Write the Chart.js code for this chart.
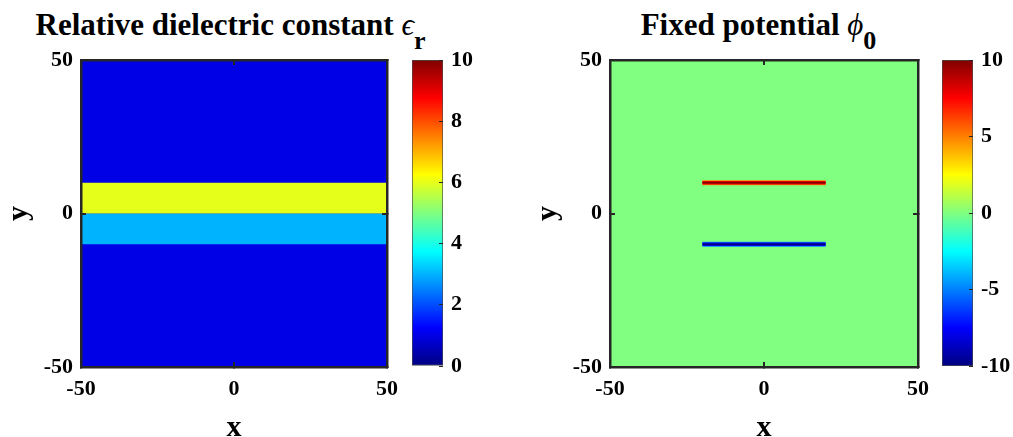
<!DOCTYPE html>
<html><head><meta charset="utf-8">
<script src="https://cdn.jsdelivr.net/npm/chart.js@4.4.1/dist/chart.umd.min.js"></script>
<style>
html,body{margin:0;padding:0;background:#fff;overflow:hidden;width:1013px;height:437px;position:relative}
canvas{position:absolute;top:0}
.title{position:absolute;top:7px;font:bold 31px "Liberation Serif","Times New Roman",serif;line-height:36px;white-space:nowrap;color:#000;text-align:center}
.sym{font-weight:normal;font-style:italic}
.sub{position:relative;top:14px;font-size:26px}
</style></head><body>
<div class="title" id="title1" style="left:0;width:461px">Relative dielectric constant <span class="sym">ϵ</span><span class="sub">r</span></div>
<div class="title" id="title2" style="left:558px;width:401px">Fixed potential <span class="sym">ϕ</span><span class="sub">0</span></div>
<canvas id="c1" width="400" height="437" style="left:0"></canvas>
<canvas id="cb1" width="100" height="437" style="left:400px"></canvas>
<canvas id="c2" width="400" height="437" style="left:529px"></canvas>
<canvas id="cb2" width="83" height="437" style="left:930px"></canvas>
<script>
// ---- data ----
const xRange = [-50, 50];
const yRange = [-50, 50];
const xTicks = [-50, 0, 50];
const yTicks = [-50, 0, 50];

// Panel 1: relative dielectric constant
const epsBackground = 1;
const bandNames = ['upper layer', 'lower layer'];
const bandTop = [10, 0];
const bandBottom = [0, -10];
const bandEps = [6, 3];
const epsRange = [0, 10];
const epsTicks = [0, 2, 4, 6, 8, 10];

// Panel 2: fixed potential
const phiBackground = 0;
const electrodeNames = ['upper electrode', 'lower electrode'];
const electrodeY = [10, -10];
const electrodeXStart = [-20, -20];
const electrodeXEnd = [20, 20];
const electrodePhi = [10, -10];
const phiRange = [-10, 10];
const phiTicks = [-10, -5, 0, 5, 10];

// ---- helpers ----
const FONT = '"Liberation Serif", "Times New Roman", serif';
const INK = '#262626';
function jetT(t) {
  t = Math.min(1, Math.max(0, t));
  const c = x => Math.round(255 * Math.min(1, Math.max(0, 1.5 - Math.abs(x))));
  return `rgb(${c(4 * t - 3)},${c(4 * t - 2)},${c(4 * t - 1)})`;
}
function jet(v, range) { return jetT((v - range[0]) / (range[1] - range[0])); }
const setTicks = arr => s => { s.ticks = arr.map(v => ({value: v})); };
const tickFont = {family: FONT, size: 22, weight: 'bold'};
const fitH = h => s => { s.height = h; s.paddingLeft = 0; s.paddingRight = 0; };
const fitW = w => s => { s.width = w; s.paddingTop = 0; s.paddingBottom = 0; };

function mainChart(id, datasets, padRight) {
  const gridOpt = {z: 1, drawOnChartArea: false, drawTicks: true, tickLength: -5, color: INK, lineWidth: 2};
  const borderOpt = {z: 1, display: true, color: INK, width: 2.5};
  return new Chart(document.getElementById(id), {
    type: 'line',
    data: {datasets},
    options: {
      responsive: false, animation: false, devicePixelRatio: 1,
      layout: {padding: {top: 60, right: padRight, left: 0, bottom: 0}},
      plugins: {legend: {display: false}, tooltip: {enabled: false}},
      elements: {point: {radius: 0}},
      scales: {
        x: {type: 'linear', position: 'bottom', min: xRange[0], max: xRange[1],
          afterBuildTicks: setTicks(xTicks), afterFit: fitH(70),
          grid: gridOpt, border: borderOpt,
          ticks: {font: tickFont, color: '#000', padding: 14, maxRotation: 0, autoSkip: false},
          title: {display: true, text: 'x', color: '#000', font: {family: FONT, size: 30, weight: 'bold', lineHeight: 0.8}, padding: {top: 0, bottom: -3}}},
        x2: {type: 'linear', position: 'top', min: xRange[0], max: xRange[1],
          afterBuildTicks: setTicks(xTicks), afterFit: fitH(0),
          grid: gridOpt, border: borderOpt, ticks: {display: false}},
        y: {type: 'linear', position: 'left', min: yRange[0], max: yRange[1],
          afterBuildTicks: setTicks(yTicks), afterFit: fitW(81),
          grid: gridOpt, border: borderOpt,
          ticks: {font: tickFont, color: '#000', padding: 13, autoSkip: false},
          title: {display: true, text: 'y', color: '#000', font: {family: FONT, size: 30, weight: 'bold', lineHeight: 1}, padding: {top: 4, bottom: 0}}},
        y2: {type: 'linear', position: 'right', min: yRange[0], max: yRange[1],
          afterBuildTicks: setTicks(yTicks), afterFit: fitW(0),
          grid: gridOpt, border: borderOpt, ticks: {display: false}}
      }
    }
  });
}

function colorbar(id, range, ticks, padLeft, axisWidth) {
  const stops = [0, 0.125, 0.375, 0.625, 0.875, 1];
  return new Chart(document.getElementById(id), {
    type: 'bar',
    data: {labels: ['colorbar'], datasets: [{
      data: [range],
      backgroundColor: ctx => {
        const ch = ctx.chart;
        if (!ch.chartArea || !ch.scales.y) return 'rgba(0,0,0,0)';
        const y0 = ch.scales.y.getPixelForValue(range[0]);
        const y1 = ch.scales.y.getPixelForValue(range[1]);
        const g = ch.ctx.createLinearGradient(0, y0, 0, y1);
        stops.forEach(t => g.addColorStop(t, jetT(t)));
        return g;
      },
      borderColor: '#4a4a4a', borderWidth: 1, borderSkipped: false,
      categoryPercentage: 1, barPercentage: 1
    }]},
    options: {
      responsive: false, animation: false, devicePixelRatio: 1,
      layout: {padding: {top: 60, bottom: 71, left: padLeft, right: 0}},
      plugins: {legend: {display: false}, tooltip: {enabled: false}},
      scales: {
        x: {display: false},
        y: {position: 'right', min: range[0], max: range[1],
          afterBuildTicks: setTicks(ticks), afterFit: fitW(axisWidth),
          grid: {z: 1, drawOnChartArea: false, drawTicks: true, tickLength: -4, color: INK, lineWidth: 1},
          border: {display: false},
          ticks: {font: tickFont, color: '#000', padding: 12, autoSkip: false}}
      }
    }
  });
}

// ---- panel 1 ----
const ds1 = [{
  label: 'background', data: [{x: xRange[0], y: yRange[1]}, {x: xRange[1], y: yRange[1]}],
  fill: {value: yRange[0]}, backgroundColor: jet(epsBackground, epsRange), borderWidth: 0, pointRadius: 0, order: 10
}];
bandNames.forEach((n, i) => ds1.push({
  label: n, data: [{x: xRange[0], y: bandTop[i]}, {x: xRange[1], y: bandTop[i]}],
  fill: {value: bandBottom[i]}, backgroundColor: jet(bandEps[i], epsRange), borderWidth: 0, pointRadius: 0, order: 1
}));
mainChart('c1', ds1, 13);
colorbar('cb1', epsRange, epsTicks, 12, 57);

// ---- panel 2 ----
const ds2 = [{
  label: 'background', data: [{x: xRange[0], y: yRange[1]}, {x: xRange[1], y: yRange[1]}],
  fill: {value: yRange[0]}, backgroundColor: jet(phiBackground, phiRange), borderWidth: 0, pointRadius: 0, order: 10
}];
// each electrode drawn as a shaded strip: outer halo, mid, core (colours from the same value)
const layers = [{w: 5, k: 0.5, order: 5}, {w: 3.5, k: 0.8, order: 4}, {w: 1.5, k: 1, order: 3}];
electrodeNames.forEach((n, i) => layers.forEach(L => ds2.push({
  label: n, data: [{x: electrodeXStart[i], y: electrodeY[i]}, {x: electrodeXEnd[i], y: electrodeY[i]}],
  fill: false, borderColor: jet(phiBackground + (electrodePhi[i] - phiBackground) * L.k, phiRange),
  borderWidth: L.w, pointRadius: 0, order: L.order
})));
mainChart('c2', ds2, 11);
colorbar('cb2', phiRange, phiTicks, 12, 40);
</script>
</body></html>
